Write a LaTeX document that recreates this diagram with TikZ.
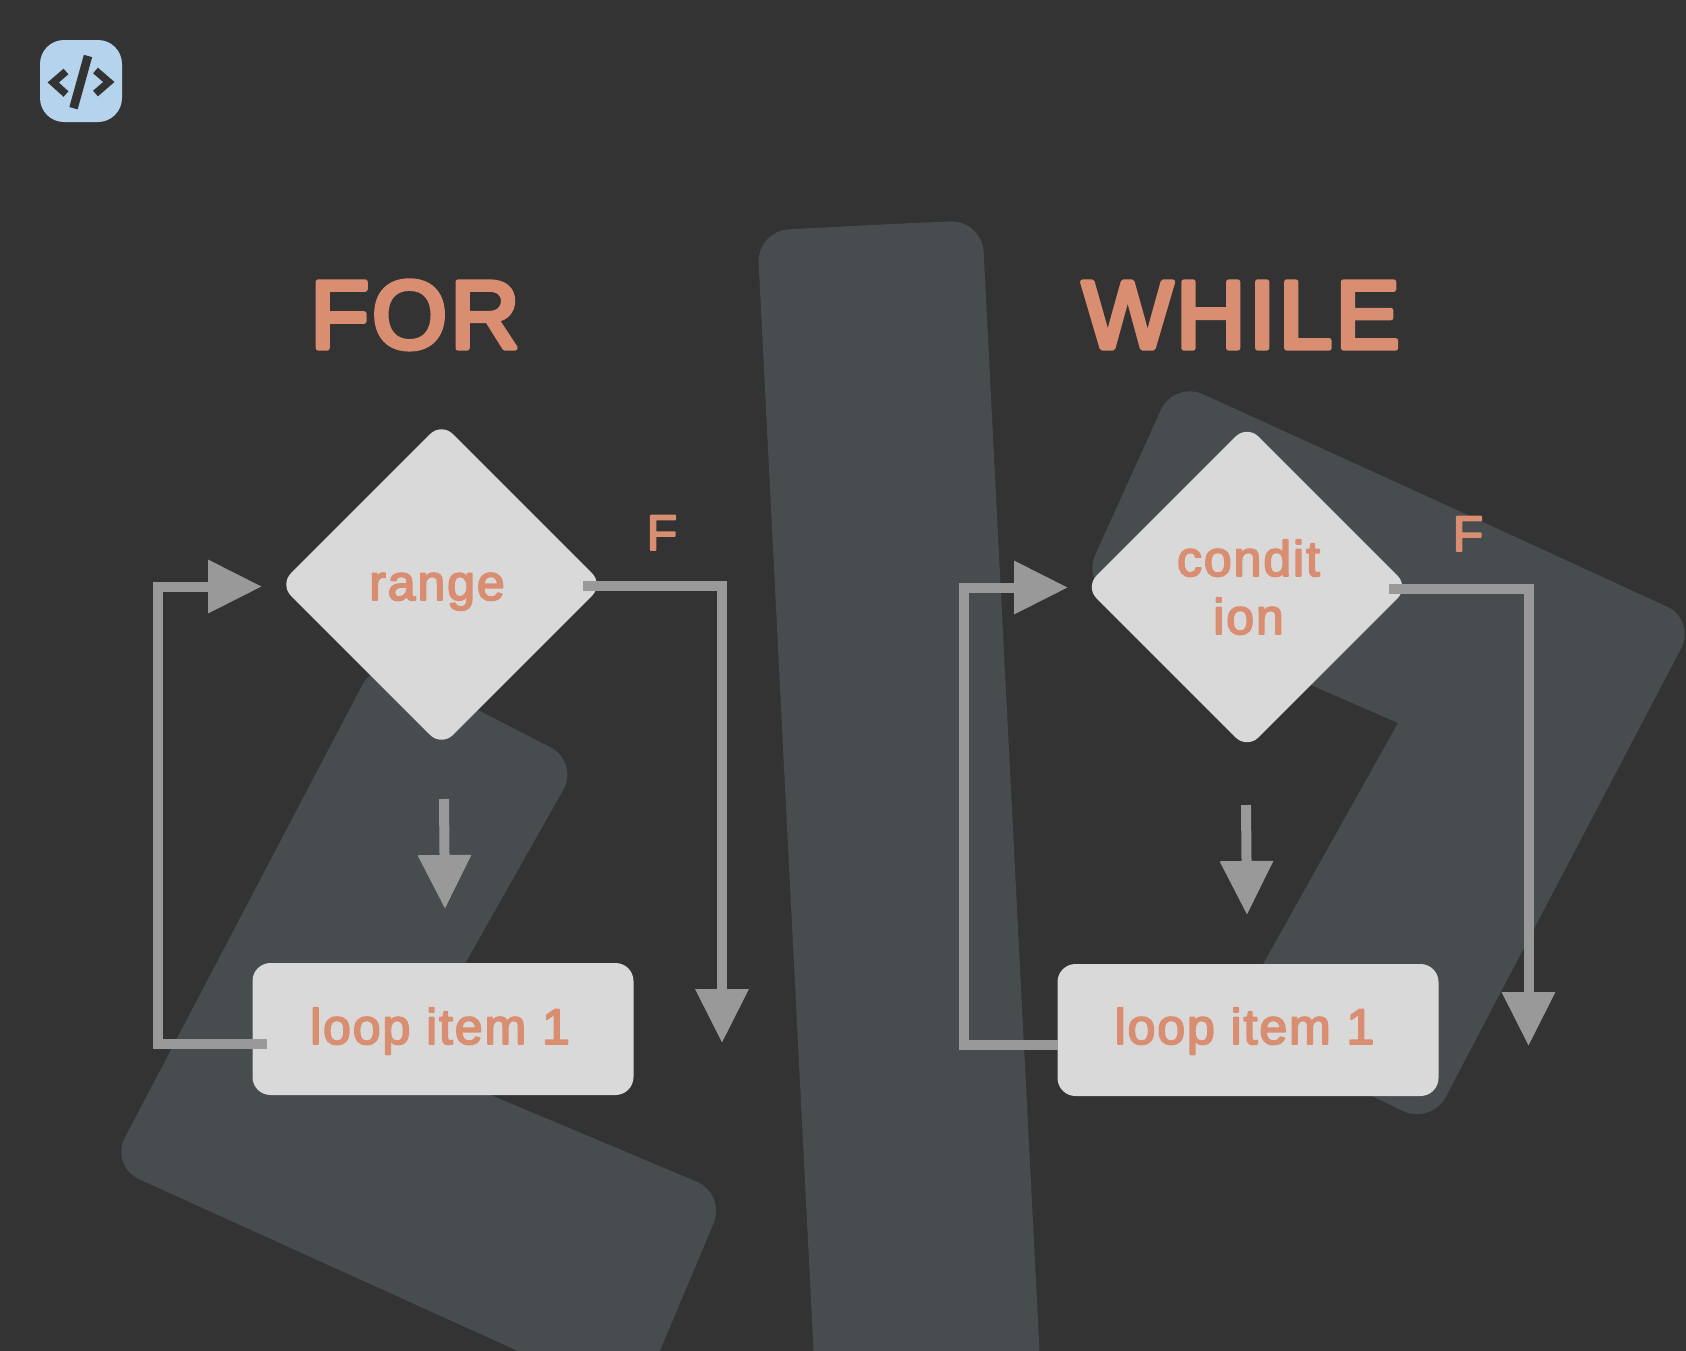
\documentclass[tikz,border=0pt]{standalone}
\usepackage{fontspec}
\setmainfont{Liberation Sans}
\newfontfamily\rndsmall[FakeBold=3.6,LetterSpace=3.8]{Liberation Sans}
\newfontfamily\rndbig[FakeBold=5.5,LetterSpace=3.5]{Liberation Sans}
\usetikzlibrary{arrows.meta,shapes.geometric}
\definecolor{bgc}{HTML}{333333}
\definecolor{blobc}{HTML}{474C4F}
\definecolor{linec}{HTML}{999999}
\definecolor{boxc}{HTML}{D9D9D9}
\definecolor{txtc}{HTML}{D98D71}
\definecolor{iconc}{HTML}{B5D3EC}
\tikzset{
  blob/.style={fill=blobc,draw=none},
  decision/.style={diamond,aspect=1,fill=boxc,draw=none,rounded corners=8pt,minimum width=162pt,minimum height=162pt,inner sep=0pt},
  itembox/.style={rectangle,fill=boxc,draw=none,rounded corners=9pt,minimum width=190.5pt,minimum height=66pt,inner sep=0pt},
  conn/.style={draw=linec,line width=5pt,line join=miter,-{Triangle[length=27pt,width=25.5pt]},miter limit=10},
  heading/.style={text=txtc,font=\fontsize{48pt}{48pt}\selectfont\rndbig,anchor=base,inner sep=0pt},
  label/.style={text=txtc,font=\fontsize{25pt}{29pt}\selectfont\rndsmall,anchor=base,inner sep=0pt,align=center},
  flag/.style={text=txtc,font=\fontsize{25pt}{25pt}\selectfont\rndsmall,anchor=base,inner sep=0pt},
}
\begin{document}
\begin{tikzpicture}[x=0.5pt,y=-0.5pt]
\pgfsetroundjoin
\useasboundingbox (0,0) rectangle (1686,1350);
\fill[bgc] (-5,-5) rectangle (1691,1355);
% background shapes
\fill[blob,rounded corners=16pt] (870,225) -- (982,220) -- (1042,1400) -- (816,1400) -- (757,231) -- cycle;
\fill[blob,rounded corners=16pt] (478,710) -- (579,762) -- (410,1061) -- (726,1194) -- (637,1405) -- (110,1166) -- (377,657) -- cycle;
\fill[blob,rounded corners=16pt] (1435,500) -- (1696,620) -- (1431,1125) -- (1229,1025)
  [sharp corners] -- (1398,723) [rounded corners=16pt] -- (1240,654) -- (1082,584) -- (1174,381) -- cycle;
% icon
\fill[iconc,rounded corners=12pt] (40,40) rectangle (122,122);
\draw[bgc,line width=3.7pt,line join=miter] (66,71.5) -- (53.2,82.5) -- (66,94);
\draw[bgc,line width=3.7pt,line join=miter] (95.5,70.5) -- (108.8,82) -- (95.5,93.5);
\draw[bgc,line width=4.3pt] (88,56) -- (73.5,108.2);
% titles
\node[heading] (forT) at (415,348) {FOR};
\node[heading] (whileT) at (1241,348) {WHILE};
% FOR
\node[decision] (d1) at (441.5,584.5) {};
\node[itembox] (b1) at (443,1029) {};
\node[label] (d1t) at (437,600) {range};
\node[label] (b1t) at (440,1044) {loop item 1};
\node[flag] (f1) at (662,550) {F};
\coordinate (a1s) at (267,1044);
\coordinate (a1c) at (158,1044);
\coordinate (a1d) at (158,586.5);
\coordinate (a1e) at (262,586.5);
\draw[conn] (a1s) -- (a1c) -- (a1d) -- (a1e);
\coordinate (a2s) at (583,586);
\coordinate (a2c) at (722,586);
\coordinate (a2e) at (722,1043);
\draw[conn] (a2s) -- (a2c) -- (a2e);
\coordinate (a3s) at (444,799);
\coordinate (a3e) at (445,909);
\draw[conn] (a3s) -- (a3e);
% WHILE
\node[decision] (d2) at (1247,587) {};
\node[itembox] (b2) at (1248,1030) {};
\node[label] (d2t) at (1248.5,634) {condit\\ion};
\node[label] (b2t) at (1244.5,1044) {loop item 1};
\node[flag] (f2) at (1468,551) {F};
\coordinate (a4s) at (1058,1045);
\coordinate (a4c) at (964,1045);
\coordinate (a4d) at (964,587.5);
\coordinate (a4e) at (1068,587.5);
\draw[conn] (a4s) -- (a4c) -- (a4d) -- (a4e);
\coordinate (a5s) at (1389,589);
\coordinate (a5c) at (1528.5,589);
\coordinate (a5e) at (1528.5,1046);
\draw[conn] (a5s) -- (a5c) -- (a5e);
\coordinate (a6s) at (1246,805);
\coordinate (a6e) at (1247,915);
\draw[conn] (a6s) -- (a6e);
\end{tikzpicture}
\end{document}
